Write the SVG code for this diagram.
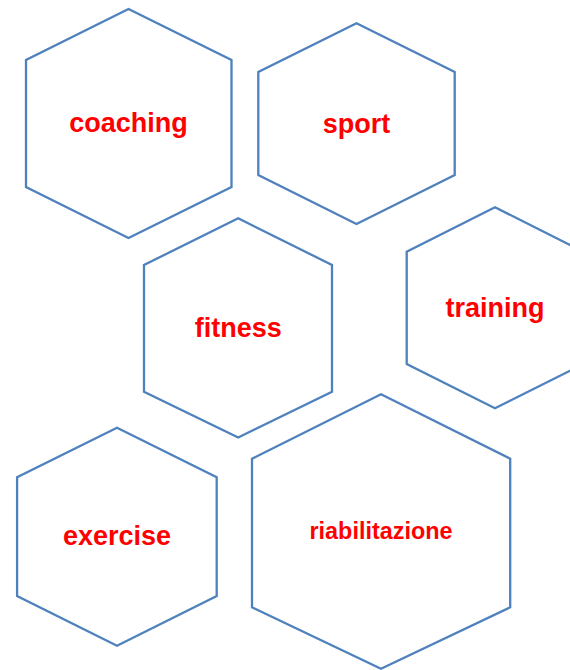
<svg xmlns="http://www.w3.org/2000/svg" width="570" height="670" viewBox="0 0 570 670">
<style>
.hex{fill:#ffffff;stroke:#4F81BD;stroke-width:2.3;stroke-linejoin:miter}
.lbl{font-family:"Liberation Sans",Arial,sans-serif;font-weight:bold;fill:#FF0000;text-anchor:middle;font-size:27px}
.sm{font-size:23.4px}
</style>
<rect width="570" height="670" fill="#ffffff"/>
<g id="connectors"></g>
<g id="coaching">
<polygon class="hex" points="128.5,9 231.5,60 231.5,187 128.5,238 26,187 26,60"/>
<text class="lbl" x="128.5" y="132">coaching</text>
</g>
<g id="sport">
<polygon class="hex" points="356.5,23.3 454.7,72 454.7,175 356.5,224 258.3,175 258.3,72"/>
<text class="lbl" x="356.5" y="133">sport</text>
</g>
<g id="fitness">
<polygon class="hex" points="238.2,218.3 332,265 332,391.7 238.2,437.5 144,391.7 144,265"/>
<text class="lbl" x="238.2" y="336.5">fitness</text>
</g>
<g id="training">
<polygon class="hex" points="495,207.3 583.3,251.7 583.3,364 495,408.3 406.7,364 406.7,251.7"/>
<text class="lbl" x="495" y="316.5">training</text>
</g>
<g id="exercise">
<polygon class="hex" points="117,427.7 216.7,477.3 216.7,596 117,645.7 17.1,596 17.1,477.3"/>
<text class="lbl" x="117" y="545">exercise</text>
</g>
<g id="riabilitazione">
<polygon class="hex" points="381,394.3 510.2,458.7 510.2,607.3 381,668.7 252,607.3 252,458.7"/>
<text class="lbl sm" x="381" y="539.3">riabilitazione</text>
</g>
</svg>
